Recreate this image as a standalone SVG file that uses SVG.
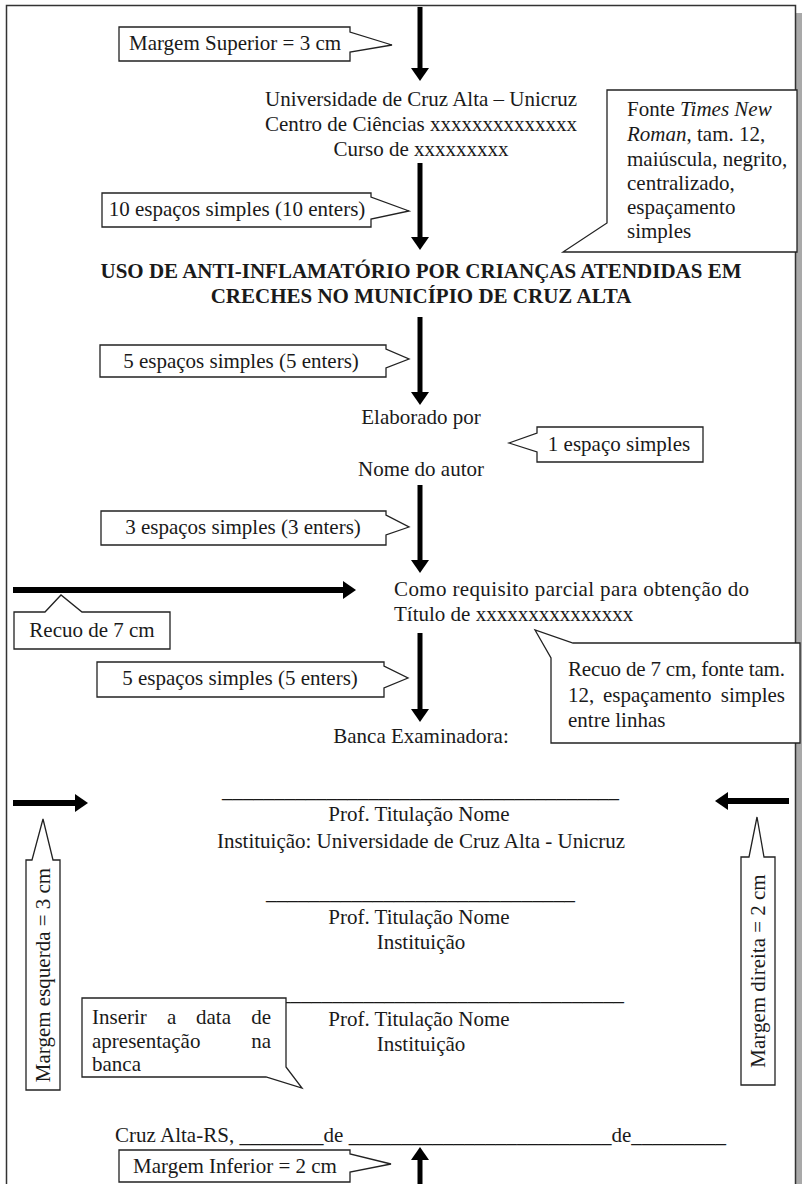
<svg xmlns="http://www.w3.org/2000/svg" width="802" height="1184" viewBox="0 0 802 1184">
  <style>
    text { font-family: "Liberation Serif", "Times New Roman", serif; font-size: 21px; fill: #1a1a1a; }
    .c { text-anchor: middle; }
    .b { font-weight: bold; }
    .i { font-style: italic; }
    .box { fill: #ffffff; stroke: #222222; stroke-width: 1.3; stroke-linejoin: miter; }
    .shaft { stroke: #000000; stroke-width: 5; fill: none; marker-end: url(#head); }
    .shaftH { stroke: #000000; stroke-width: 6; fill: none; marker-end: url(#head); }
  </style>
  <defs>
    <marker id="head" viewBox="0 0 13 18" refX="0" refY="9" markerWidth="13" markerHeight="18" orient="auto" markerUnits="userSpaceOnUse">
      <path d="M0,0 L13,9 L0,18 Z" fill="#000000"/>
    </marker>
  </defs>

  <!-- page -->
  <rect x="0" y="0" width="802" height="1184" fill="#ffffff"/>
  <rect x="796" y="13" width="6" height="1171" fill="#a9a9a9"/>
  <path d="M6.5,1184 V5.5 H795.5 V1184" fill="none" stroke="#333333" stroke-width="1.5"/>

  <!-- connectors -->
  <g id="connectors">
    <line class="shaft" x1="420" y1="7" x2="420" y2="68"/>
    <line class="shaft" x1="420" y1="163" x2="420" y2="237"/>
    <line class="shaft" x1="420" y1="317" x2="420" y2="392"/>
    <line class="shaft" x1="420" y1="485" x2="420" y2="560"/>
    <line class="shaft" x1="420" y1="633" x2="420" y2="709"/>
    <line class="shaft" x1="420" y1="1184" x2="420" y2="1160"/>
    <line class="shaftH" x1="13" y1="590" x2="343" y2="590"/>
    <line class="shaftH" x1="13" y1="803" x2="75" y2="803"/>
    <line class="shaftH" x1="789" y1="801" x2="728" y2="801"/>
  </g>

  <!-- body text -->
  <g id="header">
    <text class="c" x="421" y="106">Universidade de Cruz Alta – Unicruz</text>
    <text class="c" x="421" y="131">Centro de Ciências xxxxxxxxxxxxxx</text>
    <text class="c" x="421" y="156">Curso de xxxxxxxxx</text>
  </g>
  <g id="title">
    <text class="c b" x="421" y="278">USO DE ANTI-INFLAMATÓRIO POR CRIANÇAS ATENDIDAS EM</text>
    <text class="c b" x="421" y="303">CRECHES NO MUNICÍPIO DE CRUZ ALTA</text>
  </g>
  <g id="author">
    <text class="c" x="421" y="424">Elaborado por</text>
    <text class="c" x="421" y="476">Nome do autor</text>
  </g>
  <g id="purpose">
    <text x="394" y="596" textLength="355" lengthAdjust="spacing">Como requisito parcial para obtenção do</text>
    <text x="394" y="621">Título de xxxxxxxxxxxxxxx</text>
  </g>
  <g id="board">
    <text class="c" x="421" y="743">Banca Examinadora:</text>
    <text x="222" y="797" textLength="397" lengthAdjust="spacingAndGlyphs">______________________________________</text>
    <text class="c" x="419" y="821">Prof. Titulação Nome</text>
    <text class="c" x="421" y="848">Instituição: Universidade de Cruz Alta - Unicruz</text>
    <text x="266" y="899" textLength="309" lengthAdjust="spacingAndGlyphs">_____________________________</text>
    <text class="c" x="419" y="924">Prof. Titulação Nome</text>
    <text class="c" x="421" y="949">Instituição</text>
    <text x="228" y="1000" textLength="396" lengthAdjust="spacingAndGlyphs">______________________________________</text>
    <text class="c" x="419" y="1026">Prof. Titulação Nome</text>
    <text class="c" x="421" y="1051">Instituição</text>
  </g>
  <g id="date">
    <text x="115" y="1142" textLength="611" lengthAdjust="spacingAndGlyphs">Cruz Alta-RS, ________de _________________________de_________</text>
  </g>

  <!-- callouts -->
  <g id="note-top-margin">
    <path class="box" d="M119,27 H350 V32 L392,45 L350,52 V61 H119 Z"/>
    <text class="c" x="235" y="50">Margem Superior = 3 cm</text>
  </g>
  <g id="note-ten-spaces">
    <path class="box" d="M102,193 H371 V197 L409,211 L371,219 V227 H102 Z"/>
    <text class="c" x="237" y="216">10 espaços simples (10 enters)</text>
  </g>
  <g id="note-font">
    <path class="box" d="M607,90 H797 V252 H563 L607,223 Z"/>
    <text x="627" y="116">Fonte <tspan class="i">Times New</tspan></text>
    <text x="627" y="141"><tspan class="i">Roman</tspan>, tam. 12,</text>
    <text x="627" y="166">maiúscula, negrito,</text>
    <text x="627" y="190">centralizado,</text>
    <text x="627" y="214">espaçamento</text>
    <text x="627" y="238">simples</text>
  </g>
  <g id="note-five-spaces-1">
    <path class="box" d="M100,345 H386 V349 L409,359 L386,368 V377 H100 Z"/>
    <text class="c" x="241" y="368">5 espaços simples (5 enters)</text>
  </g>
  <g id="note-one-space">
    <path class="box" d="M537,427 H703 V462 H537 V452 L509,443 L537,433 Z"/>
    <text class="c" x="619" y="451">1 espaço simples</text>
  </g>
  <g id="note-three-spaces">
    <path class="box" d="M101,511 H386 V515 L409,527 L386,535 V545 H101 Z"/>
    <text class="c" x="243" y="534">3 espaços simples (3 enters)</text>
  </g>
  <g id="note-indent-left">
    <path class="box" d="M14,612 H45 L61,595 L82,612 H170 V649 H14 Z"/>
    <text class="c" x="92" y="637">Recuo de 7 cm</text>
  </g>
  <g id="note-five-spaces-2">
    <path class="box" d="M97,662 H384 V666 L408,678 L384,688 V697 H97 Z"/>
    <text class="c" x="240" y="685">5 espaços simples (5 enters)</text>
  </g>
  <g id="note-indent-right">
    <path class="box" d="M573,643 H800 V743 H551 V658 L535,630 Z"/>
    <text x="568" y="676" textLength="217" lengthAdjust="spacing">Recuo de 7 cm, fonte tam.</text>
    <text x="568" y="702">12,</text>
    <text x="603" y="702">espaçamento</text>
    <text x="785" y="702" text-anchor="end">simples</text>
    <text x="568" y="727">entre linhas</text>
  </g>
  <g id="note-left-margin">
    <path class="box" d="M26,860 H32 L43,819 L53,860 H60 V1090 H26 Z"/>
    <text class="c" transform="translate(43,975) rotate(-90)" x="0" y="7">Margem esquerda = 3 cm</text>
  </g>
  <g id="note-right-margin">
    <path class="box" d="M741,857 H749 L757,817 L764,857 H775 V1085 H741 Z"/>
    <text class="c" transform="translate(758,971) rotate(-90)" x="0" y="7">Margem direita = 2 cm</text>
  </g>
  <g id="note-date">
    <path class="box" d="M82,998 H286 V1067 L302,1088 L266,1077 H82 Z"/>
    <text x="92" y="1024">Inserir</text>
    <text x="167" y="1024">a</text>
    <text x="196" y="1024">data</text>
    <text x="271" y="1024" text-anchor="end">de</text>
    <text x="92" y="1048">apresentação</text>
    <text x="271" y="1048" text-anchor="end">na</text>
    <text x="92" y="1071">banca</text>
  </g>
  <g id="note-bottom-margin">
    <path class="box" d="M119,1150 H350 V1154 L391,1164 L350,1172 V1182 H119 Z"/>
    <text class="c" x="235" y="1173">Margem Inferior = 2 cm</text>
  </g>
</svg>
